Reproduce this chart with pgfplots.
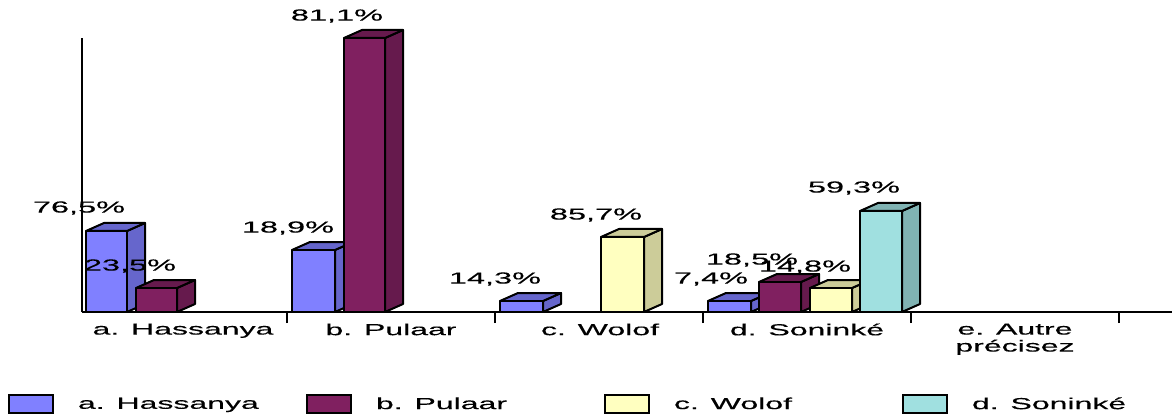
\documentclass[border=0pt]{standalone}
\usepackage{pgfplots}
\pgfplotsset{compat=1.18}
\usepackage{fontspec}
\setmainfont{Liberation Sans}[FakeBold=0.25]
\definecolor{cA}{HTML}{8080FF}\definecolor{sA}{HTML}{6666CC}
\definecolor{cB}{HTML}{802060}\definecolor{sB}{HTML}{661A4D}
\definecolor{cC}{HTML}{FFFFC0}\definecolor{sC}{HTML}{CCCC99}
\definecolor{cD}{HTML}{A0E0E0}\definecolor{sD}{HTML}{80B3B3}
\newcommand\wt[1]{\scalebox{2.0}[1]{#1}}
\newcommand\wl[1]{\scalebox{2.03}[1]{#1}}
% x0, x1, height, colour letter
\newcommand\bardd[4]{%
  \pgfmathsetmacro\xa{#1+18}\pgfmathsetmacro\xb{#2+18}\pgfmathsetmacro\ya{#3+8}%
  \edef\temp{\noexpand\addplot[forget plot,draw=black,line width=2pt,line join=round,fill=s#4] coordinates {(#2,0)(\xb,8)(\xb,\ya)(#2,#3)} --cycle;
  \noexpand\addplot[forget plot,draw=black,line width=2pt,line join=round,fill=s#4] coordinates {(#1,#3)(\xa,\ya)(\xb,\ya)(#2,#3)} --cycle;
  \noexpand\addplot[forget plot,draw=black,line width=2pt,line join=round,fill=c#4] coordinates {(#1,0)(#1,#3)(#2,#3)(#2,0)} --cycle;}%
  \temp}
\begin{document}
\begin{tikzpicture}
\useasboundingbox (-82pt,-103pt) rectangle (1090pt,312pt);
\begin{axis}[
  scale only axis, width=1090pt, height=274pt,
  xmin=82, xmax=1172, ymin=0, ymax=274,
  clip=false,
  axis lines=left,
  axis line style={-,black,line width=1.6pt},
  ytick=\empty,
  xtick={287,495,703,911,1119},
  xticklabels={},
  tick align=outside,
  major tick length=11pt,
  tick style={black,line width=1.6pt},
  extra x ticks={183,391,600,807,1015},
  extra x tick labels={\wt{a. Hassanya},\wt{b. Pulaar},\wt{c. Wolof},\wt{d. Soninké},{\wt{e. Autre}\\\wt{précisez}}},
  extra x tick style={major tick length=0pt,tick style={draw=none}},
  x tick label style={font=\fontsize{16}{17}\selectfont,align=center,anchor=north,yshift=-8pt},
  legend columns=4,
  legend cell align=left,
  legend style={at={(axis cs:8,-92)},anchor=west,draw=none,fill=none,inner sep=0pt,outer sep=0pt,
    font=\fontsize{16}{17}\selectfont,
    /tikz/every even column/.append style={column sep=26pt}},
]
\bardd{86}{127}{81}{A}
\bardd{136}{177}{24}{B}
\bardd{292}{335}{62}{A}
\bardd{344}{385}{274}{B}
\bardd{500}{543}{11}{A}
\bardd{601}{644}{75}{C}
\bardd{708}{751}{11}{A}
\bardd{759}{801}{30}{B}
\bardd{810}{852}{24}{C}
\bardd{860}{902}{101}{D}
\addlegendimage{legend image code/.code={\draw[draw=black,line width=2pt,fill=cA] (0pt,-9pt) rectangle (44pt,9pt);}}
\addlegendentry{\makebox[222pt][l]{\hspace{22pt}\wt{a. Hassanya}}}
\addlegendimage{legend image code/.code={\draw[draw=black,line width=2pt,fill=cB] (0pt,-9pt) rectangle (44pt,9pt);}}
\addlegendentry{\makebox[222pt][l]{\hspace{22pt}\wt{b. Pulaar}}}
\addlegendimage{legend image code/.code={\draw[draw=black,line width=2pt,fill=cC] (0pt,-9pt) rectangle (44pt,9pt);}}
\addlegendentry{\makebox[222pt][l]{\hspace{22pt}\wt{c. Wolof}}}
\addlegendimage{legend image code/.code={\draw[draw=black,line width=2pt,fill=cD] (0pt,-9pt) rectangle (44pt,9pt);}}
\addlegendentry{\makebox[222pt][l]{\hspace{22pt}\wt{d. Soninké}}}
\addplot[forget plot,only marks,mark=none,
  point meta=explicit symbolic,
  nodes near coords,
  nodes near coords style={anchor=center,inner sep=0pt,font=\fontsize{16}{17}\selectfont,text=black},
] table[meta=lab,col sep=space] {
x y lab
79 104 \wl{76,5\%}
130 46 \wl{23,5\%}
288 84 \wl{18,9\%}
337 296 \wl{81,1\%}
495 33 \wl{14,3\%}
596 97 \wl{85,7\%}
711 33 \wl{7,4\%}
752 52 \wl{18,5\%}
805 45 \wl{14,8\%}
854 124 \wl{59,3\%}
};
\end{axis}
\end{tikzpicture}
\end{document}
